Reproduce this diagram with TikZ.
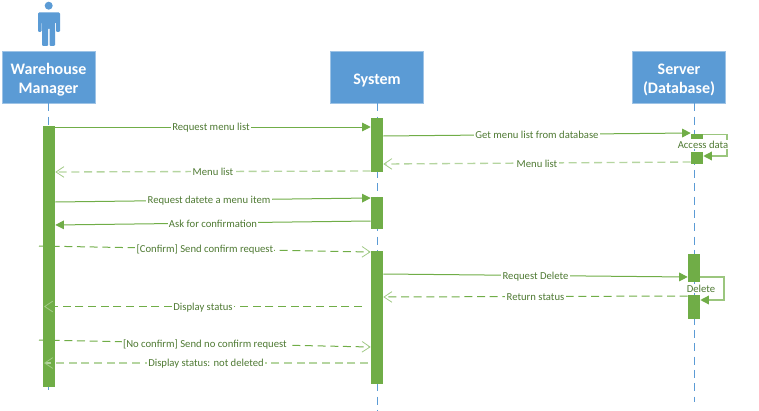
\documentclass[tikz,border=0pt]{standalone}
\usepackage{fontspec}
\setmainfont{Carlito}
\usetikzlibrary{arrows.meta}
\definecolor{hdr}{HTML}{5B9BD5}
\definecolor{act}{HTML}{70AD47}
\definecolor{lbl}{HTML}{4F7A33}
\definecolor{pale}{HTML}{B5D5A0}
\tikzset{
  x=0.75pt,y=-0.75pt,
  actor/.style={fill=hdr,draw=hdr!60!white,line width=0.4pt,text=white,font=\fontsize{12}{14.25}\selectfont\bfseries,align=center,minimum width=69.75pt,minimum height=39pt,inner sep=0pt},
  lifeline/.style={hdr,line width=0.75pt,dash pattern=on 6pt off 4pt},
  bar/.style={fill=act,draw=none,minimum width=9pt,inner sep=0pt,anchor=north},
  msg/.style={act,line width=0.75pt},
  sync/.style={msg,-{Triangle[length=6.5pt,width=6.5pt,fill=act]}},
  self/.style={act!70!white,line width=1pt,-{Triangle[length=6.5pt,width=6.5pt,fill=act,color=act]}},
  reply/.style={msg,dash pattern=on 6pt off 3.5pt,-{Straight Barb[length=6pt,width=8pt,line width=0.6pt,color=act!65!white]}},
  faint/.style={reply,pale,line width=1pt},
  lab/.style={fill=white,text=lbl,font=\fontsize{8}{9}\selectfont,inner xsep=1pt,inner ysep=0.5pt},
  plab/.style={pos=0.5,lab,yshift=-0.5pt},
}
\newcommand{\hdrstrut}{\rule{0pt}{12.5pt}}
\begin{document}
\begin{tikzpicture}
\useasboundingbox (0,0) rectangle (759,410);
% actor icon
\fill[hdr] (48.7,5.7) circle (4);
\fill[hdr,rounded corners=0.8pt] (38,12.5) -- (60,12.5) -- (60,32) -- (56,32) -- (56,22) -- (55,22) -- (55,46) -- (49.6,46) -- (49.6,28) -- (48.2,28) -- (48.2,46) -- (42,46) -- (42,22) -- (41.5,22) -- (41.5,32) -- (38,32) -- cycle;
% heads
\node[actor] (wm) at (48.5,77) {\hdrstrut Warehouse\\Manager};
\node[actor] (sys) at (377,77) {\hdrstrut System};
\node[actor] (srv) at (679,77) {\hdrstrut Server\\(Database)};
% lifeline ends
\coordinate (wmEnd) at (48.5,390);
\coordinate (sysEnd) at (377,410);
\coordinate (srvEnd) at (694.5,402);
\draw[lifeline] (wm.south) -- (wmEnd);
\draw[lifeline] (sys.south) -- (sysEnd);
\draw[lifeline] (srv.south -| srvEnd) -- (srvEnd);
% activation bars (top anchors; height in px*0.75pt)
\node[bar,minimum height=195.75pt] (a1) at (49,126) {};
\node[bar,minimum height=40.5pt] (b1) at (377,118) {};
\node[bar,minimum height=24pt] (b2) at (377,197) {};
\node[bar,minimum height=99.75pt] (b3) at (377,251) {};
\node[bar,minimum height=3.75pt] (c1) at (697,134) {};
\node[bar,minimum height=9pt] (c2) at (697,152) {};
\node[bar,minimum height=21pt] (c3) at (694,254) {};
\node[bar,minimum height=18pt] (c4) at (694,295) {};
% free ends of messages
\coordinate (p1a) at (a1.east |- 0,127);
\coordinate (p1b) at (b1.west |- 0,127);
\coordinate (p2a) at (b1.east |- 0,136);
\coordinate (p2b) at (c1.west |- 0,133);
\coordinate (p3a) at (c2.west |- 0,162);
\coordinate (p3b) at (b1.east |- 0,164);
\coordinate (p4a) at (b1.west |- 0,171);
\coordinate (p4b) at (a1.east |- 0,172);
\coordinate (p5a) at (a1.east |- 0,202);
\coordinate (p5b) at (b2.west |- 0,198);
\coordinate (p6a) at (b2.west |- 0,221);
\coordinate (p6b) at (a1.east |- 0,225);
\coordinate (p7a) at (39,246);
\coordinate (p7b) at (b3.west |- 0,252);
\coordinate (p8a) at (362,306.5);
\coordinate (p8b) at (44,306.5);
\coordinate (p9a) at (b3.east |- 0,274);
\coordinate (p9b) at (c3.west |- 0,277);
\coordinate (p10a) at (c4.west |- 0,296);
\coordinate (p10b) at (b3.east |- 0,297);
\coordinate (p11a) at (39,340);
\coordinate (p11b) at (b3.west |- 0,347);
\coordinate (p12a) at (368,363);
\coordinate (p12b) at (44,363);
% messages
\draw[sync] (p1a) -- node[plab,xshift=-1.5pt] {Request menu list} (p1b);
\draw[sync] (p2a) -- node[plab] {Get menu list from database} (p2b);
\draw[faint] (p3a) -- node[plab] {Menu list} (p3b);
\draw[faint] (p4a) -- node[plab] {Menu list} (p4b);
\draw[sync] (p5a) -- node[plab,xshift=-3pt] {Request datete a menu item} (p5b);
\draw[sync] (p6a) -- node[plab] {Ask for confirmation} (p6b);
\draw[reply] (p7a) -- node[plab] {[Confirm] Send confirm request} (p7b);
\draw[reply] (p8a) -- node[plab] {Display status} (p8b);
\draw[sync] (p9a) -- node[plab] {Request Delete} (p9b);
\draw[reply] (p10a) -- node[plab] {Return status} (p10b);
\draw[reply] (p11a) -- node[plab] {[No confirm] Send no confirm request} (p11b);
\draw[faint] (p12a) -- node[plab] {Display status: not deleted} (p12b);
% self messages
\coordinate (s1a) at (727,134.5);
\coordinate (s1b) at (727,156);
\coordinate (s2a) at (724,277);
\coordinate (s2b) at (724,300);
\draw[self] (c1.east |- s1a) -- (s1a) -- (s1b) -- (c2.east |- s1b);
\draw[self] (c3.east |- s2a) -- (s2a) -- (s2b) -- (c4.east |- s2b);
\node[lab,inner sep=0.5pt] (accessLabel) at (703,144.5) {Access data};
\node[lab,inner sep=0.5pt] (deleteLabel) at (701,288.5) {Delete};
\end{tikzpicture}
\end{document}
